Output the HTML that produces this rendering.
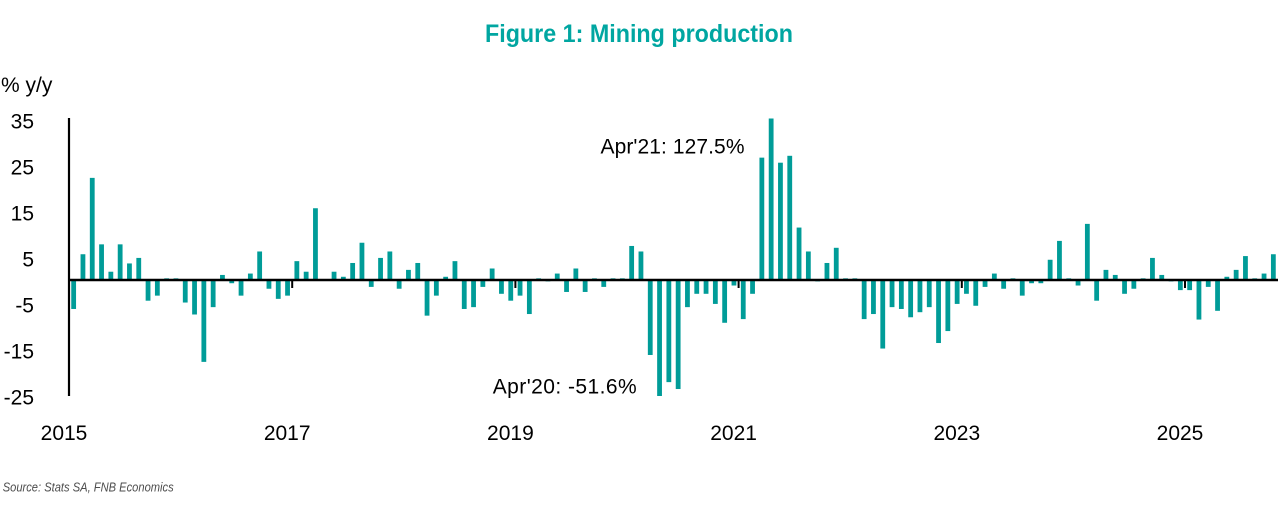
<!DOCTYPE html>
<html>
<head>
<meta charset="utf-8">
<style>
html,body{margin:0;padding:0;background:#fff}
svg{display:block}
.l{font-family:"Liberation Sans",Arial,sans-serif;font-size:21px;fill:#000}
</style>
</head>
<body>
<svg width="1280" height="520" viewBox="0 0 1280 520" xmlns="http://www.w3.org/2000/svg">
<rect width="1280" height="520" fill="#fff"/>
<text x="485" y="42" font-family="Liberation Sans, Arial, sans-serif" font-weight="bold" font-size="25" fill="#00A6A1" textLength="308" lengthAdjust="spacingAndGlyphs">Figure 1: Mining production</text>
<text class="l" x="1" y="92" font-size="20.5">% y/y</text>
<g class="l" text-anchor="end">
<text x="34" y="128.5">35</text>
<text x="34" y="174.5">25</text>
<text x="34" y="220.5">15</text>
<text x="34" y="266.5">5</text>
<text x="34" y="312.5">-5</text>
<text x="34" y="358.5">-15</text>
<text x="34" y="404.5">-25</text>
</g>
<g class="l" text-anchor="middle">
<text x="64" y="440">2015</text>
<text x="287.2" y="440">2017</text>
<text x="510.4" y="440">2019</text>
<text x="733.6" y="440">2021</text>
<text x="956.8" y="440">2023</text>
<text x="1180" y="440">2025</text>
</g>
<g fill="#009C98">
<rect x="71.25" y="280" width="4.8" height="28.98"/>
<rect x="80.55" y="254.24" width="4.8" height="25.76"/>
<rect x="89.85" y="177.88" width="4.8" height="102.12"/>
<rect x="99.15" y="244.35" width="4.8" height="35.65"/>
<rect x="108.45" y="271.72" width="4.8" height="8.28"/>
<rect x="117.75" y="244.35" width="4.8" height="35.65"/>
<rect x="127.05" y="263.44" width="4.8" height="16.56"/>
<rect x="136.35" y="257.92" width="4.8" height="22.08"/>
<rect x="145.65" y="280" width="4.8" height="20.7"/>
<rect x="154.95" y="280" width="4.8" height="15.64"/>
<rect x="164.25" y="278.34" width="4.8" height="1.66"/>
<rect x="173.55" y="278.34" width="4.8" height="1.66"/>
<rect x="182.85" y="280" width="4.8" height="22.54"/>
<rect x="192.15" y="280" width="4.8" height="34.5"/>
<rect x="201.45" y="280" width="4.8" height="81.88"/>
<rect x="210.75" y="280" width="4.8" height="27.14"/>
<rect x="220.05" y="274.94" width="4.8" height="5.06"/>
<rect x="229.35" y="280" width="4.8" height="3.22"/>
<rect x="238.65" y="280" width="4.8" height="15.64"/>
<rect x="247.95" y="273.56" width="4.8" height="6.44"/>
<rect x="257.25" y="251.48" width="4.8" height="28.52"/>
<rect x="266.55" y="280" width="4.8" height="8.74"/>
<rect x="275.85" y="280" width="4.8" height="18.86"/>
<rect x="285.15" y="280" width="4.8" height="15.64"/>
<rect x="294.45" y="261.14" width="4.8" height="18.86"/>
<rect x="303.75" y="271.72" width="4.8" height="8.28"/>
<rect x="313.05" y="208.24" width="4.8" height="71.76"/>
<rect x="331.65" y="271.72" width="4.8" height="8.28"/>
<rect x="340.95" y="276.78" width="4.8" height="3.22"/>
<rect x="350.25" y="262.98" width="4.8" height="17.02"/>
<rect x="359.55" y="242.74" width="4.8" height="37.26"/>
<rect x="368.85" y="280" width="4.8" height="6.9"/>
<rect x="378.15" y="257.92" width="4.8" height="22.08"/>
<rect x="387.45" y="251.48" width="4.8" height="28.52"/>
<rect x="396.75" y="280" width="4.8" height="8.74"/>
<rect x="406.05" y="269.88" width="4.8" height="10.12"/>
<rect x="415.35" y="262.98" width="4.8" height="17.02"/>
<rect x="424.65" y="280" width="4.8" height="35.65"/>
<rect x="433.95" y="280" width="4.8" height="15.64"/>
<rect x="443.25" y="276.78" width="4.8" height="3.22"/>
<rect x="452.55" y="261.14" width="4.8" height="18.86"/>
<rect x="461.85" y="280" width="4.8" height="28.98"/>
<rect x="471.15" y="280" width="4.8" height="27.14"/>
<rect x="480.45" y="280" width="4.8" height="6.9"/>
<rect x="489.75" y="268.5" width="4.8" height="11.5"/>
<rect x="499.05" y="280" width="4.8" height="13.8"/>
<rect x="508.35" y="280" width="4.8" height="20.7"/>
<rect x="517.65" y="280" width="4.8" height="15.64"/>
<rect x="526.95" y="280" width="4.8" height="34.04"/>
<rect x="536.25" y="278.34" width="4.8" height="1.66"/>
<rect x="545.55" y="280" width="4.8" height="1.38"/>
<rect x="554.85" y="273.56" width="4.8" height="6.44"/>
<rect x="564.15" y="280" width="4.8" height="11.96"/>
<rect x="573.45" y="268.5" width="4.8" height="11.5"/>
<rect x="582.75" y="280" width="4.8" height="11.96"/>
<rect x="592.05" y="278.34" width="4.8" height="1.66"/>
<rect x="601.35" y="280" width="4.8" height="6.9"/>
<rect x="610.65" y="278.34" width="4.8" height="1.66"/>
<rect x="619.95" y="278.34" width="4.8" height="1.66"/>
<rect x="629.25" y="245.96" width="4.8" height="34.04"/>
<rect x="638.55" y="251.48" width="4.8" height="28.52"/>
<rect x="647.85" y="280" width="4.8" height="74.98"/>
<rect x="657.15" y="280" width="4.8" height="116"/>
<rect x="666.45" y="280" width="4.8" height="102.12"/>
<rect x="675.75" y="280" width="4.8" height="109.02"/>
<rect x="685.05" y="280" width="4.8" height="27.14"/>
<rect x="694.35" y="280" width="4.8" height="13.8"/>
<rect x="703.65" y="280" width="4.8" height="13.8"/>
<rect x="712.95" y="280" width="4.8" height="23.92"/>
<rect x="722.25" y="280" width="4.8" height="42.78"/>
<rect x="731.55" y="280" width="4.8" height="5.52"/>
<rect x="740.85" y="280" width="4.8" height="39.1"/>
<rect x="750.15" y="280" width="4.8" height="13.8"/>
<rect x="759.45" y="157.64" width="4.8" height="122.36"/>
<rect x="768.75" y="118.5" width="4.8" height="161.5"/>
<rect x="778.05" y="162.7" width="4.8" height="117.3"/>
<rect x="787.35" y="155.8" width="4.8" height="124.2"/>
<rect x="796.65" y="227.56" width="4.8" height="52.44"/>
<rect x="805.95" y="251.48" width="4.8" height="28.52"/>
<rect x="815.25" y="280" width="4.8" height="1.38"/>
<rect x="824.55" y="262.98" width="4.8" height="17.02"/>
<rect x="833.85" y="247.8" width="4.8" height="32.2"/>
<rect x="843.15" y="278.34" width="4.8" height="1.66"/>
<rect x="852.45" y="278.34" width="4.8" height="1.66"/>
<rect x="861.75" y="280" width="4.8" height="39.1"/>
<rect x="871.05" y="280" width="4.8" height="34.04"/>
<rect x="880.35" y="280" width="4.8" height="68.54"/>
<rect x="889.65" y="280" width="4.8" height="27.14"/>
<rect x="898.95" y="280" width="4.8" height="28.98"/>
<rect x="908.25" y="280" width="4.8" height="37.26"/>
<rect x="917.55" y="280" width="4.8" height="32.2"/>
<rect x="926.85" y="280" width="4.8" height="27.14"/>
<rect x="936.15" y="280" width="4.8" height="63.02"/>
<rect x="945.45" y="280" width="4.8" height="51.06"/>
<rect x="954.75" y="280" width="4.8" height="23.92"/>
<rect x="964.05" y="280" width="4.8" height="13.8"/>
<rect x="973.35" y="280" width="4.8" height="25.76"/>
<rect x="982.65" y="280" width="4.8" height="6.9"/>
<rect x="991.95" y="273.56" width="4.8" height="6.44"/>
<rect x="1001.25" y="280" width="4.8" height="8.74"/>
<rect x="1010.55" y="278.34" width="4.8" height="1.66"/>
<rect x="1019.85" y="280" width="4.8" height="15.64"/>
<rect x="1029.15" y="280" width="4.8" height="3.22"/>
<rect x="1038.45" y="280" width="4.8" height="3.22"/>
<rect x="1047.75" y="259.76" width="4.8" height="20.24"/>
<rect x="1057.05" y="240.9" width="4.8" height="39.1"/>
<rect x="1066.35" y="278.34" width="4.8" height="1.66"/>
<rect x="1075.65" y="280" width="4.8" height="5.52"/>
<rect x="1084.95" y="223.88" width="4.8" height="56.12"/>
<rect x="1094.25" y="280" width="4.8" height="20.7"/>
<rect x="1103.55" y="269.88" width="4.8" height="10.12"/>
<rect x="1112.85" y="274.94" width="4.8" height="5.06"/>
<rect x="1122.15" y="280" width="4.8" height="13.8"/>
<rect x="1131.45" y="280" width="4.8" height="8.74"/>
<rect x="1140.75" y="278.34" width="4.8" height="1.66"/>
<rect x="1150.05" y="257.92" width="4.8" height="22.08"/>
<rect x="1159.35" y="274.94" width="4.8" height="5.06"/>
<rect x="1168.65" y="280" width="4.8" height="1.38"/>
<rect x="1177.95" y="280" width="4.8" height="10.12"/>
<rect x="1187.25" y="280" width="4.8" height="10.12"/>
<rect x="1196.55" y="280" width="4.8" height="39.56"/>
<rect x="1205.85" y="280" width="4.8" height="6.9"/>
<rect x="1215.15" y="280" width="4.8" height="30.82"/>
<rect x="1224.45" y="276.78" width="4.8" height="3.22"/>
<rect x="1233.75" y="269.88" width="4.8" height="10.12"/>
<rect x="1243.05" y="256.08" width="4.8" height="23.92"/>
<rect x="1252.35" y="278.34" width="4.8" height="1.66"/>
<rect x="1261.65" y="273.56" width="4.8" height="6.44"/>
<rect x="1270.95" y="254.24" width="4.8" height="25.76"/>
</g>
<line x1="69" y1="118" x2="69" y2="396" stroke="#000" stroke-width="2.2"/>
<line x1="68" y1="280" x2="1278" y2="280" stroke="#000" stroke-width="2.4"/>
<g stroke="#000" stroke-width="2">
<line x1="292.2" y1="280" x2="292.2" y2="288"/>
<line x1="515.4" y1="280" x2="515.4" y2="288"/>
<line x1="738.6" y1="280" x2="738.6" y2="288"/>
<line x1="961.8" y1="280" x2="961.8" y2="288"/>
<line x1="1185" y1="280" x2="1185" y2="288"/>
</g>
<text class="l" x="600.5" y="153.3" textLength="144" lengthAdjust="spacing">Apr'21: 127.5%</text>
<text class="l" x="492.7" y="393.3" textLength="144" lengthAdjust="spacing">Apr'20: -51.6%</text>
<text x="2.7" y="491.5" font-family="Liberation Sans, Arial, sans-serif" font-style="italic" font-size="12.5" fill="#4d4d4d" textLength="171" lengthAdjust="spacingAndGlyphs">Source: Stats SA, FNB Economics</text>
</svg>
</body>
</html>
